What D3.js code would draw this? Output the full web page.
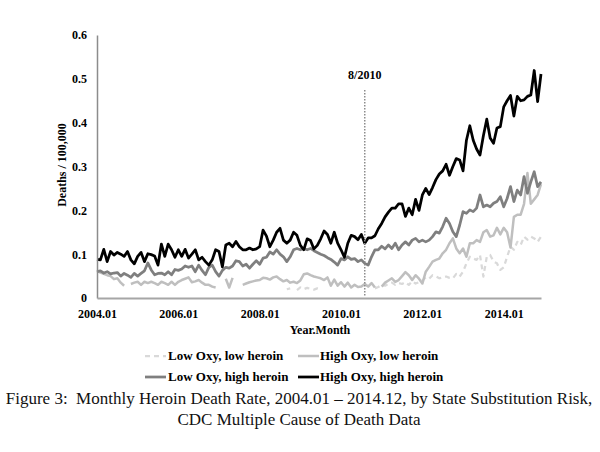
<!DOCTYPE html>
<html><head><meta charset="utf-8">
<script src="https://cdn.jsdelivr.net/npm/d3@7"></script>
<style>
body{margin:0;background:#fff}
svg{display:block}
text{font-family:"Liberation Serif","Times New Roman",serif}
</style>
</head><body>
<svg id="chart" width="600" height="452"></svg>
<script>
// ---------- data ----------
const years = [2004,2005,2006,2007,2008,2009,2010,2011,2012,2013,2014];
const monthNums = ["01","02","03","04","05","06","07","08","09","10","11","12"];
const monthLabels = years.flatMap(y => monthNums.map(m => y + "." + m));
const xTickLabels = ["2004.01","2006.01","2008.01","2010.01","2012.01","2014.01"];
const yTicks = [0,0.1,0.2,0.3,0.4,0.5,0.6];
const markerMonth = "2010.08";
const markerLabel = "8/2010";

const seriesNames = ["Low Oxy, low heroin","High Oxy, low heroin","Low Oxy, high heroin","High Oxy, high heroin"];

const lowOxyLowHeroin = [
 null,null,null,null,null,null,null,null,null,null,null,null,
 null,null,null,null,null,null,null,null,null,null,null,null,
 null,null,null,null,null,null,null,null,null,null,null,null,
 null,null,null,null,null,null,null,null,null,null,null,null,
 null,null,null,null,null,null,null,null,0.020,0.022,null,0.018,
 0.024,0.020,0.023,0.021,0.019,0.022,0.020,null,null,null,null,null,
 null,null,null,null,null,null,null,null,null,null,0.022,0.025,
 0.030,0.028,0.033,0.035,0.030,0.034,0.032,0.036,0.030,0.038,0.033,0.036,
 0.040,0.047,0.044,0.052,0.049,0.045,0.047,0.049,0.046,0.045,0.055,0.049,
 0.060,0.079,0.094,0.090,0.087,0.098,0.049,0.094,0.098,0.083,0.079,0.064,
 0.070,0.094,0.117,0.110,0.128,0.121,0.140,0.133,0.140,0.136,0.128,0.140
];
const highOxyLowHeroin = [
 0.062,0.058,0.055,0.052,0.050,0.043,0.045,0.035,0.028,null,0.032,0.035,
 0.037,0.030,0.037,0.034,0.037,0.034,0.030,0.037,0.034,0.030,0.037,0.030,
 0.037,0.041,0.044,0.047,0.036,0.038,0.041,0.035,0.030,0.030,0.026,0.024,
 null,null,0.044,0.024,0.046,null,null,0.030,0.033,0.036,0.038,0.040,
 0.041,0.046,0.045,0.042,0.047,0.049,0.043,0.038,0.041,0.035,0.037,0.034,
 0.040,0.054,0.056,0.052,0.049,0.047,0.045,0.041,0.047,0.028,0.042,0.028,
 0.036,0.026,0.035,0.024,0.030,0.025,0.026,0.032,0.026,0.034,0.024,null,
 0.026,0.035,0.040,0.045,0.037,0.041,0.050,0.059,0.052,0.041,0.052,0.044,
 0.033,0.060,0.071,0.083,0.087,0.090,0.102,0.110,0.125,0.136,0.113,0.102,
 0.113,0.094,0.125,0.125,0.132,0.128,0.150,0.155,0.140,0.143,0.160,0.145,
 0.160,0.150,0.115,0.185,0.190,0.190,0.215,0.285,0.215,0.225,0.235,0.260
];
const lowOxyHighHeroin = [
 0.060,0.062,0.057,0.060,0.055,0.057,0.058,0.050,0.056,0.052,0.047,0.056,
 0.050,0.056,0.062,0.080,0.064,0.053,0.056,0.057,0.053,0.060,0.053,0.065,
 0.063,0.066,0.073,0.070,0.073,0.060,0.075,0.063,0.053,0.070,0.075,0.060,
 0.050,0.063,0.070,0.068,0.073,0.085,0.083,0.073,0.077,0.068,0.077,0.085,
 0.077,0.091,0.093,0.105,0.100,0.110,0.100,0.094,0.083,0.094,0.110,0.113,
 0.110,0.113,0.110,0.113,0.108,0.104,0.100,0.097,0.092,0.088,0.082,0.075,
 0.090,0.087,0.094,0.088,0.090,0.083,0.087,0.079,0.075,0.094,0.110,0.110,
 0.118,0.112,0.121,0.113,0.125,0.110,0.121,0.128,0.121,0.132,0.136,0.128,
 0.132,0.128,0.132,0.140,0.151,0.148,0.163,0.182,0.170,0.151,0.140,0.166,
 0.197,0.193,0.201,0.197,0.205,0.235,0.208,0.212,0.208,0.216,0.220,0.231,
 0.208,0.227,0.254,0.220,0.246,0.235,0.277,0.239,0.265,0.288,0.254,0.265
];
const highOxyHighHeroin = [
 0.088,0.087,0.111,0.083,0.106,0.098,0.104,0.100,0.095,0.106,0.087,0.078,
 0.095,0.104,0.083,0.101,0.099,0.096,0.075,0.123,0.095,0.123,0.110,0.093,
 0.110,0.095,0.111,0.091,0.100,0.110,0.087,0.093,0.083,0.075,0.087,0.110,
 0.106,0.071,0.121,0.125,0.117,0.129,0.117,0.110,0.110,0.114,0.110,0.112,
 0.117,0.155,0.141,0.117,0.132,0.150,0.159,0.132,0.125,0.132,0.150,0.143,
 0.120,0.110,0.135,0.131,0.112,0.120,0.135,0.153,0.145,0.125,0.150,0.125,
 0.110,0.093,0.125,0.143,0.140,0.133,0.145,0.125,0.137,0.137,0.142,0.158,
 0.170,0.185,0.196,0.205,0.205,0.215,0.215,0.186,0.205,0.190,0.225,0.200,
 0.235,0.250,0.236,0.252,0.270,0.283,0.290,0.305,0.280,0.300,0.318,0.315,
 0.290,0.360,0.393,0.360,0.340,0.326,0.370,0.408,0.365,0.353,0.388,0.391,
 0.436,0.450,0.462,0.415,0.460,0.450,0.452,0.460,0.463,0.519,0.448,0.511
];

const captionLines = [
 "Figure 3:\u00a0 Monthly Heroin Death Rate, 2004.01 \u2013 2014.12, by State Substitution Risk,",
 "CDC Multiple Cause of Death Data"
];

// ---------- styles ----------
const styles = [
 {color:"#d9d9d9", width:2.25, dash:"5,4"},
 {color:"#bfbfbf", width:2.5, dash:null},
 {color:"#7f7f7f", width:2.75, dash:null},
 {color:"#000000", width:2.75, dash:null}
];
const allSeries = [lowOxyLowHeroin, highOxyLowHeroin, lowOxyHighHeroin, highOxyHighHeroin];

// ---------- chart ----------
const svg = d3.select("#chart");
svg.append("rect").attr("width",600).attr("height",452).attr("fill","#fff");

const x = d3.scalePoint().domain(monthLabels).range([97, 541]);
const y = d3.scaleLinear().domain([0, 0.6]).range([298, 35]);

const line = d3.line()
  .defined(d => d.v != null)
  .x(d => x(d.m))
  .y(d => y(d.v));

allSeries.forEach((s, i) => {
  const pts = monthLabels.map((m, j) => ({m, v: s[j]}));
  svg.append("path")
    .datum(pts)
    .attr("d", line)
    .attr("fill","none")
    .attr("stroke", styles[i].color)
    .attr("stroke-width", styles[i].width)
    .attr("stroke-linejoin","round")
    .attr("stroke-dasharray", styles[i].dash);
});

// y axis
const yAxis = svg.append("g").attr("transform","translate(97,0)")
  .call(d3.axisLeft(y).tickValues(yTicks).tickSize(0).tickPadding(10)
    .tickFormat(d => d === 0 ? "0" : d3.format(".1f")(d)));
yAxis.select(".domain").attr("stroke","#8c8c8c").attr("stroke-width",1.5);
yAxis.selectAll("text").attr("font-family","Liberation Serif, serif")
  .attr("font-size",12).attr("font-weight","bold").attr("fill","#000");

// x axis
const xAxis = svg.append("g").attr("transform","translate(0,298)")
  .call(d3.axisBottom(x).tickValues(xTickLabels).tickSize(0).tickPadding(11));
xAxis.select(".domain").attr("stroke","#a6a6a6").attr("stroke-width",2);
xAxis.selectAll("text").attr("font-family","Liberation Serif, serif")
  .attr("font-size",12).attr("font-weight","bold").attr("fill","#000");

// marker line
const mx = x(markerMonth);
svg.append("line")
  .attr("x1",mx).attr("x2",mx).attr("y1",90).attr("y2",297)
  .attr("stroke","#8c8c8c").attr("stroke-width",1.5).attr("stroke-dasharray","1.5,1.5");
svg.append("text").attr("x",mx).attr("y",79).attr("text-anchor","middle")
  .attr("font-size",12).attr("font-weight","bold").text(markerLabel);

// axis titles
svg.append("text").attr("x",320).attr("y",334).attr("text-anchor","middle")
  .attr("font-size",12).attr("font-weight","bold").text("Year.Month");
svg.append("text").attr("transform","translate(66,165) rotate(-90)").attr("text-anchor","middle")
  .attr("font-size",12).attr("font-weight","bold").text("Deaths / 100,000");

// legend
const legendPos = [
  {sx:145, tx:168, y:356},
  {sx:298, tx:320, y:356},
  {sx:145, tx:168, y:377},
  {sx:298, tx:320, y:377}
];
seriesNames.forEach((name, i) => {
  const p = legendPos[i];
  svg.append("line").attr("x1",p.sx).attr("x2",p.sx+21).attr("y1",p.y).attr("y2",p.y)
    .attr("stroke",styles[i].color).attr("stroke-width",styles[i].width)
    .attr("stroke-dasharray", styles[i].dash);
  svg.append("text").attr("x",p.tx).attr("y",p.y+4)
    .attr("font-size",13).attr("font-weight","bold").text(name);
});

// caption
captionLines.forEach((t, i) => {
  svg.append("text").attr("x",299).attr("y",404 + i*21).attr("text-anchor","middle")
    .attr("font-size",17).attr("fill","#111").text(t);
});
</script>
</body></html>
